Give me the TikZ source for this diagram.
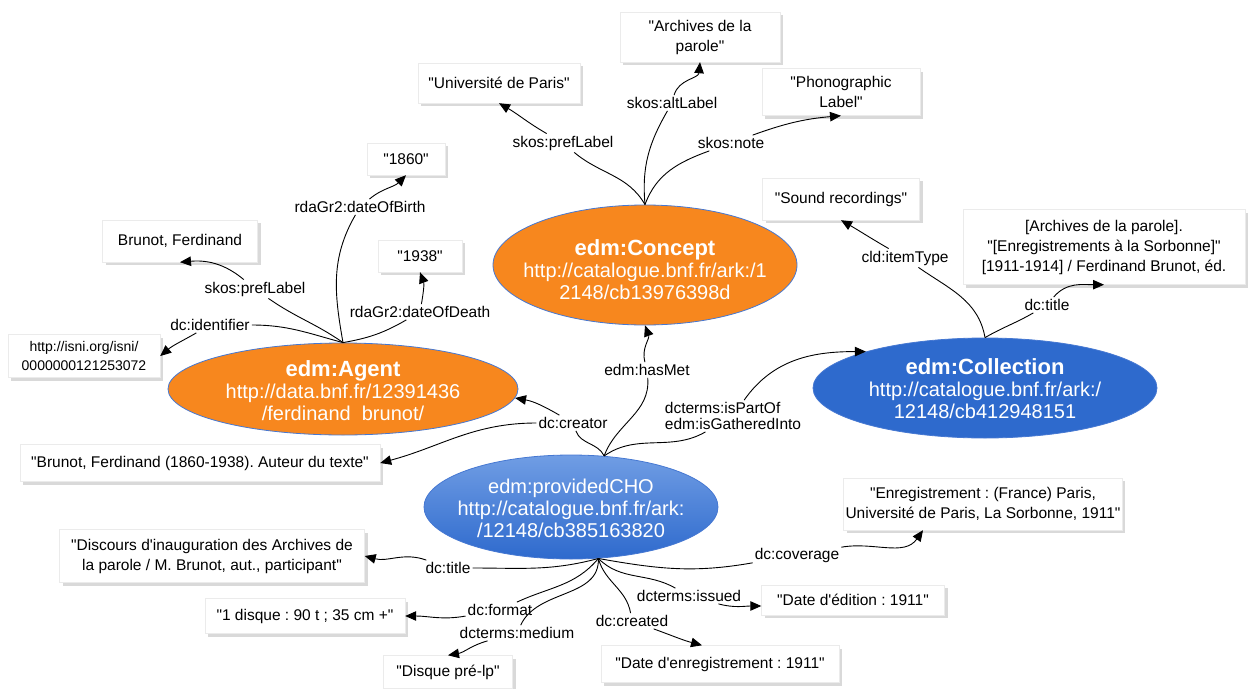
\documentclass[tikz,border=0pt]{standalone}
\usepackage{fontspec}
\setmainfont{Liberation Sans}[Ligatures=TeXOff]
\usetikzlibrary{shapes.geometric, arrows.meta, shadows}
\frenchspacing

\definecolor{edmorange}{RGB}{247,135,30}
\definecolor{edmblue}{RGB}{46,106,205}
\definecolor{edmlight}{RGB}{112,157,228}
\definecolor{edmedge}{RGB}{70,120,210}

\newcommand{\lblfont}{\fontsize{15.5}{17}\selectfont}
\newcommand{\valfont}{\fontsize{15.5}{20}\selectfont}
\newcommand{\objfont}{\fontsize{20}{22}\selectfont}
\newcommand{\objhead}[1]{{\fontsize{22}{24}\selectfont\bfseries #1}}

\begin{document}
\begin{tikzpicture}[
    x=1pt, y=1pt,
    obj/.style={ellipse, draw=edmedge, line width=0.8pt, inner sep=0pt},
    objtext/.style={text=white, align=center, font=\objfont, inner sep=0pt},
    orangeobj/.style={obj, fill=edmorange},
    blueobj/.style={obj, fill=edmblue},
    choobj/.style={obj, top color=edmlight, bottom color=edmblue},
    val/.style={rectangle, fill=white, draw=black!8, align=center, font=\valfont, inner sep=2pt,
        drop shadow={shadow xshift=3pt, shadow yshift=-3pt, opacity=0.3, fill=black!50}},
    wh/.style 2 args={minimum width=#1pt, minimum height=#2pt},
    lbl/.style={inner sep=2pt, font=\lblfont},
    rel/.style={-{Triangle[length=11pt, width=9.5pt]}, line width=0.9pt}
]
\useasboundingbox (0,0) rectangle (1250,-688);

% Resources
\node[orangeobj, minimum width=304pt, minimum height=120pt] (concept) at (645,-265) {};
\node[objtext] (concept-t) at (645,-270) {\objhead{edm:Concept}\\http://catalogue.bnf.fr/ark:/1\\2148/cb13976398d};
\node[orangeobj, minimum width=350pt, minimum height=92pt] (agent) at (343,-389) {};
\node[objtext] (agent-t) at (343,-391) {\objhead{edm:Agent}\\http://data.bnf.fr/12391436\\/ferdinand\ \ brunot/};
\node[blueobj, minimum width=344pt, minimum height=100pt] (coll) at (985,-388) {};
\node[objtext] (coll-t) at (985,-389) {\objhead{edm:Collection}\\http://catalogue.bnf.fr/ark:/\\12148/cb412948151};
\node[choobj, minimum width=294pt, minimum height=104pt] (cho) at (571,-507) {};
\node[objtext] (cho-t) at (571,-508) {edm:providedCHO\\http://catalogue.bnf.fr/ark:\\/12148/cb385163820};

% Literal values
\node[val, wh={160}{50}] (arch) at (700,-37) {"Archives de la\\parole"};
\node[val, wh={162}{40}] (uni) at (499,-83) {"Université de Paris"};
\node[val, wh={158}{47}] (phono) at (841,-92) {"Phonographic\\Label"};
\node[val, wh={78}{32}] (b1860) at (406,-159) {"1860"};
\node[val, wh={155}{42}] (brunot) at (180,-241) {Brunot, Ferdinand};
\node[val, wh={84}{32}] (b1938) at (420,-256) {"1938"};
\node[val, wh={152}{43}, font=\fontsize{14}{19}\selectfont] (isni) at (84,-356) {http://isni.org/isni/\\0000000121253072};
\node[val, wh={157}{42}] (sound) at (841,-199) {"Sound recordings"};
\node[val, wh={282}{75}] (colltitle) at (1104,-247) {[Archives de la parole].\\"[Enregistrements à la Sorbonne]"\\{}[1911-1914] / Ferdinand Brunot, éd.};
\node[val, wh={360}{37}] (auteur) at (200,-463) {"Brunot, Ferdinand (1860-1938). Auteur du texte"};
\node[val, wh={270}{52}] (enr) at (983,-504) {"Enregistrement : (France) Paris,\\Université de Paris, La Sorbonne, 1911"};
\node[val, wh={305}{53}] (discours) at (212,-556) {"Discours d'inauguration des Archives de\\la parole / M. Brunot, aut., participant"};
\node[val, wh={200}{35}] (disque) at (305,-616) {"1 disque : 90 t ; 35 cm +"};
\node[val, wh={183}{30}] (edition) at (853,-600) {"Date d'édition : 1911"};
\node[val, wh={238}{37}] (enreg) at (720,-664) {"Date d'enregistrement : 1911"};
\node[val, wh={129}{33}] (prelp) at (448,-672) {"Disque pré-lp"};

% Property labels
\node[lbl] (l-alt) at (672,-103) {skos:altLabel};
\node[lbl] (l-pref1) at (563,-143) {skos:prefLabel};
\node[lbl] (l-note) at (731,-143) {skos:note};
\node[lbl] (l-birth) at (360,-207) {rdaGr2:dateOfBirth};
\node[lbl] (l-pref2) at (255,-289) {skos:prefLabel};
\node[lbl] (l-death) at (420,-312) {rdaGr2:dateOfDeath};
\node[lbl] (l-ident) at (210,-325) {dc:identifier};
\node[lbl] (l-itemtype) at (905,-258) {cld:itemType};
\node[lbl] (l-colltitle) at (1047,-305) {dc:title};
\node[lbl] (l-hasmet) at (647,-370) {edm:hasMet};
\node[lbl, align=left, font=\fontsize{15.5}{16}\selectfont] (l-partof) at (733,-416) {dcterms:isPartOf\\edm:isGatheredInto};
\node[lbl] (l-creator) at (573,-423) {dc:creator};
\node[lbl] (l-title) at (448,-568) {dc:title};
\node[lbl] (l-coverage) at (797,-555) {dc:coverage};
\node[lbl] (l-format) at (500,-610) {dc:format};
\node[lbl] (l-medium) at (517,-633) {dcterms:medium};
\node[lbl] (l-issued) at (689,-596) {dcterms:issued};
\node[lbl] (l-created) at (632,-621) {dc:created};

% Concept properties
\draw[rel] (concept.north) to[out=120,in=-40] (l-pref1) to[out=150,in=-30] (uni.south);
\draw[rel] (concept.north) to[out=95,in=-120] (l-alt) to[out=75,in=-95] (arch.south);
\draw[rel] (concept.north) to[out=70,in=200] (l-note) to[out=20,in=185] (phono.south);

% Agent properties
\draw[rel] (agent.north) to[out=100,in=-120] (l-birth) to[out=40,in=-135] (b1860.south);
\draw[rel] (agent.north) to[out=145,in=-35] (l-pref2) to[out=140,in=5] (brunot.south);
\draw[rel] (agent.north) to[out=10,in=-150] (l-death) to[out=80,in=-70] (b1938.south);
\draw[rel] (agent.north) to[out=165,in=0] (l-ident) to[out=-150,in=40] (isni.east);

% Collection properties
\draw[rel] (coll.north) to[out=100,in=-35] (l-itemtype) to[out=150,in=-30] (sound.south);
\draw[rel] (coll.north) to[out=30,in=-150] (l-colltitle) to[out=50,in=180] (colltitle.south);

% providedCHO links
\draw[rel] (cho.57) to[out=70,in=-85] (l-hasmet) to[out=105,in=-70] (concept.south);
\draw[rel] (cho.57) to[out=35,in=-150] (l-partof) to[out=55,in=180] (coll.163);
\draw[rel] (cho.57) to[out=115,in=-70] (l-creator) to[out=150,in=-10] (agent.-3);
\draw[rel] (l-creator) to[out=180,in=15] (auteur.east);

% providedCHO literals
\draw[rel] (cho.-62) to[out=-165,in=0] (l-title) to[out=160,in=-15] (discours.east);
\draw[rel] (cho.-62) to[out=-130,in=25] (l-format) to[out=-170,in=0] (disque.east);
\draw[rel] (cho.-62) to[out=-88,in=65] (l-medium) to[out=-165,in=10] (prelp.north);
\draw[rel] (cho.-62) to[out=-75,in=100] (l-created) to[out=-20,in=165] ([xshift=-18pt]enreg.north);
\draw[rel] (cho.-62) to[out=-45,in=150] (l-issued) to[out=-15,in=180] ([yshift=-6pt]edition.west);
\draw[rel] (cho.-62) to[out=-10,in=190] (l-coverage) to[out=10,in=-125] ([xshift=-60pt]enr.south);

\end{tikzpicture}
\end{document}
